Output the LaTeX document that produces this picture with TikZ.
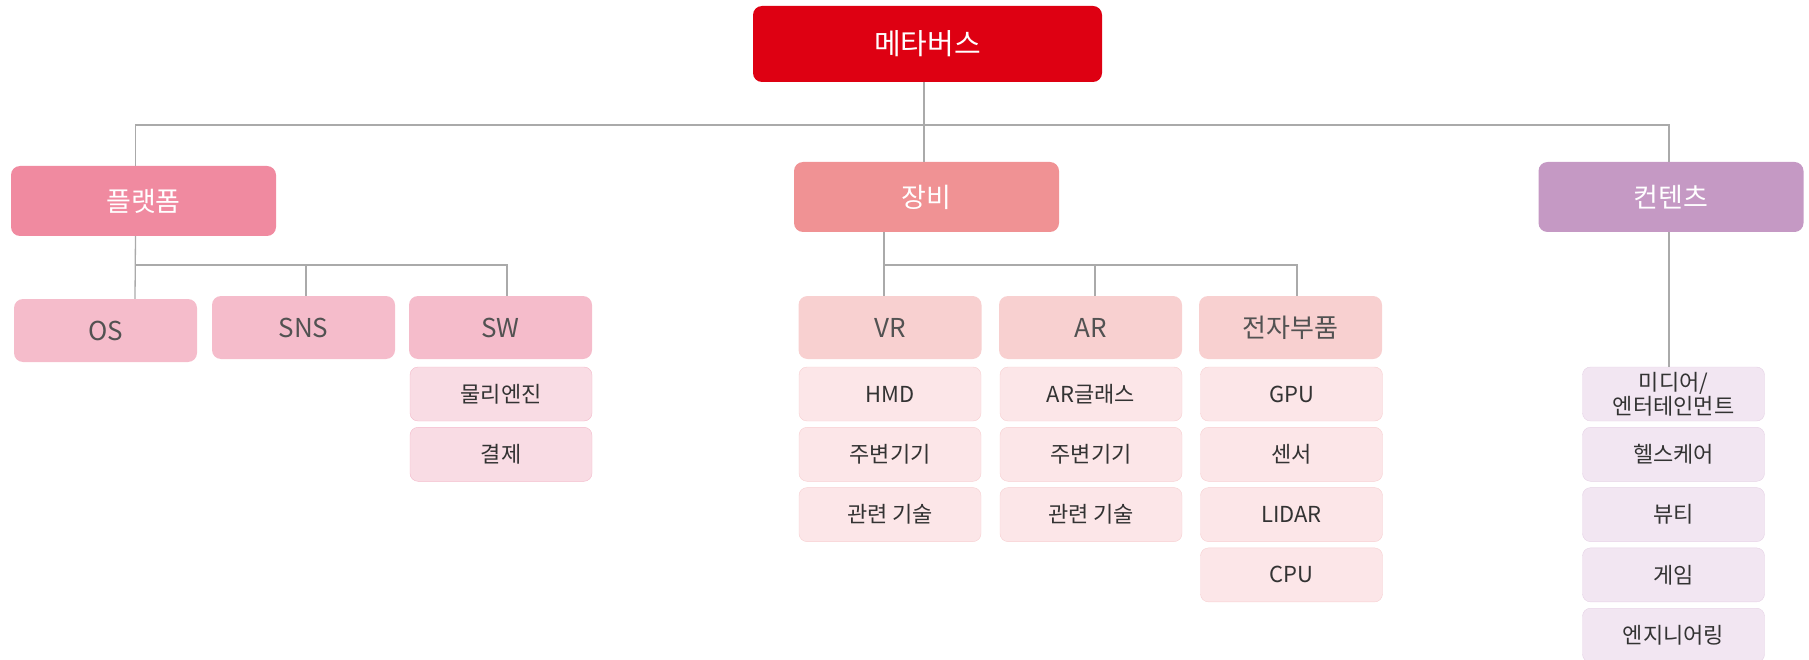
\documentclass[tikz,border=0pt]{standalone}
\usepackage{fontspec}
\setmainfont{Noto Sans CJK KR}
\usepackage{tikz}
\usetikzlibrary{positioning,calc}
\definecolor{rootred}{RGB}{222,0,18}
\definecolor{platc}{RGB}{240,138,160}
\definecolor{equipc}{RGB}{240,146,148}
\definecolor{contc}{RGB}{197,153,196}
\definecolor{platsub}{RGB}{245,188,203}
\definecolor{equipsub}{RGB}{248,208,208}
\definecolor{platleaf}{RGB}{249,220,228}
\definecolor{platline}{RGB}{244,186,203}
\definecolor{equipleaf}{RGB}{252,230,232}
\definecolor{equipline}{RGB}{247,207,209}
\definecolor{contleaf}{RGB}{242,230,242}
\definecolor{contline}{RGB}{230,210,230}
\definecolor{linkc}{RGB}{170,170,170}
\begin{document}
\begin{tikzpicture}[x=1pt, y=-1pt,
  box/.style={rounded corners=9pt, inner sep=0pt, align=center},
  topbox/.style={box, fill=rootred, text=white, minimum width=349pt, minimum height=76pt, font=\fontsize{29}{32}\selectfont},
  catbox/.style={box, fill=#1, text=white, minimum width=265pt, minimum height=70pt, font=\fontsize{27}{30}\selectfont},
  subbox/.style={box, fill=#1, text=black!68, minimum width=183pt, minimum height=63pt, font=\fontsize{26}{29}\selectfont},
  leaf/.style={box, rounded corners=8pt, minimum width=182pt, minimum height=54pt, text=black!80, font=\fontsize{22}{24}\selectfont},
  link/.style={draw=linkc, line width=1.3pt}]
\useasboundingbox (0,0) rectangle (1809,660);
% top levels
\node[topbox] (root) at (927.5,44) {메타버스};
\node[catbox=platc] (plat) at (143.5,201) {플랫폼};
\node[catbox=equipc] (equip) at (926.5,197) {장비};
\node[catbox=contc] (cont) at (1671,197) {컨텐츠};
\node[subbox=platsub] (os) at (105.5,330.5) {OS};
\node[subbox=platsub] (sns) at (303.5,327.5) {SNS};
\node[subbox=platsub] (sw) at (500.5,327.5) {SW};
\node[subbox=equipsub] (vr) at (890,327.5) {VR};
\node[subbox=equipsub] (ar) at (1090.5,327.5) {AR};
\node[subbox=equipsub] (elec) at (1290.5,327.5) {전자부품};
% leaves
\foreach \t [count=\i] in {물리엔진,결제}
  \node[leaf, fill=platleaf, draw=platline] (sw\i) at (501,{394+60.3*(\i-1)}) {\t};
\foreach \t [count=\i] in {HMD,주변기기,관련 기술}
  \node[leaf, fill=equipleaf, draw=equipline] (vr\i) at (890,{394+60.3*(\i-1)}) {\t};
\foreach \t [count=\i] in {AR글래스,주변기기,관련 기술}
  \node[leaf, fill=equipleaf, draw=equipline] (ar\i) at (1091,{394+60.3*(\i-1)}) {\t};
\foreach \t [count=\i] in {GPU,센서,LIDAR,CPU}
  \node[leaf, fill=equipleaf, draw=equipline] (elec\i) at (1291.5,{394+60.3*(\i-1)}) {\t};
\foreach \t [count=\i] in {{미디어/\\엔터테인먼트},헬스케어,뷰티,게임,엔지니어링}
  \node[leaf, fill=contleaf, draw=contline] (cont\i) at (1673.5,{394+60.3*(\i-1)}) {\t};
% links
\coordinate (hub) at (924,125);
\coordinate (pbus) at (135,265);
\coordinate (ebus) at (884,265);
\draw[link] (root.south -| hub) -- (equip.north -| hub);
\draw[link] ([xshift=-8pt]plat.north) |- (hub) -| ([xshift=-2pt]cont.north);
\draw[link] ([xshift=-8pt]plat.south) -- (os.north -| pbus);
\draw[link] (pbus) -| ([xshift=2.5pt]sns.north);
\draw[link] (pbus) -| ([xshift=6.5pt]sw.north);
\draw[link] (equip.south -| ebus) -- (vr.north -| ebus);
\draw[link] (ebus) -| ([xshift=4.5pt]ar.north);
\draw[link] (ebus) -| ([xshift=6.5pt]elec.north);
\draw[link] ([xshift=-2pt]cont.south) -- ([xshift=-2pt]cont.south |- cont1.north);
\end{tikzpicture}
\end{document}
